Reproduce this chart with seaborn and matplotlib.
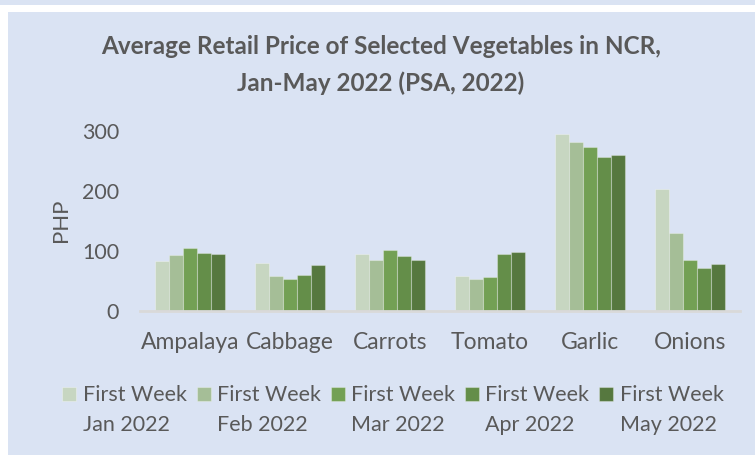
import matplotlib.pyplot as plt
import matplotlib.patches as mpatches
import pandas as pd
import seaborn as sns

# donnees (PHP)
legumes = ["Ampalaya", "Cabbage", "Carrots", "Tomato", "Garlic", "Onions"]
semaines = ["First Week\nJan 2022", "First Week\nFeb 2022", "First Week\nMar 2022",
            "First Week\nApr 2022", "First Week\nMay 2022"]
jan = [82.5, 79, 95, 57.5, 295, 202.5]
feb = [93, 57.5, 84, 53, 281, 130]
mar = [104.7, 52.5, 102, 56, 273, 84]
apr = [96, 60, 92, 94, 256, 71]
may = [94, 77, 85, 97.5, 260, 78]
couleurs = ["#c5d9bd", "#a3c490", "#70ad47", "#62993e", "#548235"]

valeurs = [jan, feb, mar, apr, may]
rows = []
for sem, vals in zip(semaines, valeurs):
    for leg, v in zip(legumes, vals):
        rows.append({"legume": leg, "semaine": sem, "prix": v})
df = pd.DataFrame(rows)

sns.set_style("white")
plt.rcParams["font.family"] = ["Lato", "DejaVu Sans"]
gris = "#595959"
fond = "#dae3f3"

W, H = 755, 455
fig = plt.figure(figsize=(W / 100, H / 100), dpi=100, facecolor="white")
# fond du panneau
fig.patches.append(mpatches.Rectangle((0, 1 - 5 / H), 1, 5 / H, transform=fig.transFigure,
                                      facecolor=fond, edgecolor="none", zorder=-5))
fig.patches.append(mpatches.Rectangle((8 / W, 0), 1, 1 - 12 / H, transform=fig.transFigure,
                                      facecolor=fond, edgecolor="none", zorder=-5))

ax = fig.add_axes([140 / W, (H - 310.7) / H, 600 / W, 180 / H])
ax.set_facecolor("none")
sns.barplot(data=df, x="legume", y="prix", hue="semaine", palette=couleurs,
            width=0.7, edgecolor=(1, 1, 1, 0.3), linewidth=0.8, ax=ax)

ax.set_ylim(0, 300)
ax.set_yticks([0, 100, 200, 300])
ax.set_xlabel("")
ax.set_ylabel("PHP", fontsize=16, color=gris, labelpad=8)
ax.tick_params(axis="both", length=0, colors=gris)
ax.tick_params(axis="x", pad=15, labelsize=16.5)
ax.tick_params(axis="y", pad=15, labelsize=15.5)
for s in ["top", "right", "left"]:
    ax.spines[s].set_visible(False)
ax.spines["bottom"].set_color("#d9d9d9")
ax.spines["bottom"].set_linewidth(2)

fig.text(381 / W, 1 - 65 / H,
         "Average Retail Price of Selected Vegetables in NCR,\nJan-May 2022 (PSA, 2022)",
         ha="center", va="center", fontsize=17.5, fontweight="bold", color=gris,
         linespacing=1.65)

leg = ax.legend(loc="center", bbox_to_anchor=(393 / W, 1 - 410 / H),
                bbox_transform=fig.transFigure, ncol=5, frameon=False,
                fontsize=15.5, handlelength=0.65, handleheight=0.65, handletextpad=0.3,
                columnspacing=0.45, labelcolor=gris)
for t in leg.get_texts():
    t.set_linespacing(1.65)
# carre de legende aligne sur la premiere ligne
for h in leg.legend_handles:
    h.set_y(h.get_y() + 12)

plt.savefig("out.png", dpi=100, facecolor="white")
